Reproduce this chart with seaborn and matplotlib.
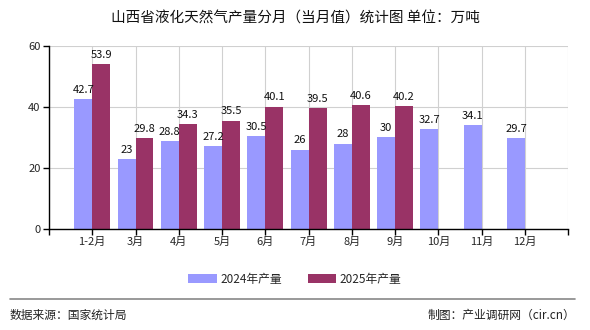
import numpy as np
import pandas as pd
import matplotlib
matplotlib.use("Agg")
import matplotlib.pyplot as plt
import seaborn as sns

categories = ["1-2月", "3月", "4月", "5月", "6月", "7月", "8月", "9月", "10月", "11月", "12月"]
values_2024 = [42.7, 23, 28.8, 27.2, 30.5, 26, 28, 30, 32.7, 34.1, 29.7]
values_2025 = [53.9, 29.8, 34.3, 35.5, 40.1, 39.5, 40.6, 40.2, np.nan, np.nan, np.nan]
series_names = ["2024年产量", "2025年产量"]
colors = ["#9999FF", "#993366"]
yticks = [0, 20, 40, 60]

df = pd.DataFrame({
    "month": categories * 2,
    "value": values_2024 + values_2025,
    "series": [series_names[0]] * len(categories) + [series_names[1]] * len(categories),
})

sns.set_theme(style="white")
plt.rcParams["font.family"] = ["Noto Sans CJK SC", "DejaVu Sans"]

fig = plt.figure(figsize=(5.9, 3.3), dpi=100)
ax = fig.add_axes([0.083, 0.306, 0.880, 0.555])

sns.barplot(data=df, x="month", y="value", hue="series", order=categories,
            hue_order=series_names, palette=colors, width=0.83, dodge=True,
            saturation=1, errorbar=None, ax=ax, legend=True, linewidth=0, edgecolor="none")

for cont in ax.containers:
    for p in cont.patches:
        h = p.get_height()
        if h is None or np.isnan(h):
            continue
        ax.annotate(f"{h:g}", (p.get_x() + p.get_width() / 2, h),
                    xytext=(0, 3), textcoords="offset points",
                    ha="center", va="bottom", fontsize=8, color="#111111")

n = len(categories)
ax.set_xlim(-1, n)
ax.set_xticks([-1, n], minor=True)
ax.set_ylim(0, 60)
ax.set_yticks(yticks)
ax.set_xlabel("")
ax.set_ylabel("")
ax.grid(True, which="both", color="#d0d0d0", linewidth=0.8)
ax.set_axisbelow(True)
for s in ["top", "right"]:
    ax.spines[s].set_visible(False)
for s in ["left", "bottom"]:
    ax.spines[s].set_color("black")
    ax.spines[s].set_linewidth(1.0)
ax.tick_params(axis="both", which="both", direction="out", length=4, width=1,
               color="black", labelsize=8, pad=2, bottom=True, left=True)

leg = ax.legend(loc="upper center", ncol=2, frameon=False, fontsize=8.5,
                handlelength=2.4, handleheight=0.8, columnspacing=2.2, handletextpad=0.3)
leg.set_bbox_to_anchor((0.5, 0.205), transform=fig.transFigure)

fig.text(0.5, 0.945, "山西省液化天然气产量分月（当月值）统计图 单位：万吨",
         ha="center", va="center", fontsize=10.5, color="#111111")
fig.add_artist(plt.Line2D([0.017, 0.975], [0.094, 0.094], color="#888888", linewidth=1.2,
                          transform=fig.transFigure))
fig.text(0.017, 0.045, "数据来源：国家统计局", ha="left", va="center", fontsize=8.5, color="#222222")
fig.text(0.975, 0.045, "制图：产业调研网（cir.cn）", ha="right", va="center", fontsize=8.5, color="#222222")

fig.savefig("out.png", dpi=100)
